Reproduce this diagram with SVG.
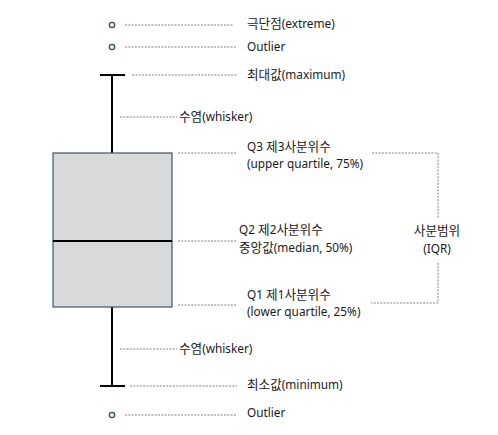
<svg xmlns="http://www.w3.org/2000/svg" width="498" height="435" viewBox="0 0 498 435">
<style>
.t{font-family:"Noto Sans","Noto Sans CJK KR",sans-serif;font-size:11.8px;fill:#1a1a1a}
.h{font-family:"Noto Sans CJK KR",sans-serif;font-size:12.6px}
.m{text-anchor:middle}
.d{stroke:#808080;stroke-width:1;stroke-dasharray:2 1.3;fill:none}
.k{stroke:#000;stroke-width:2;fill:none}
.o{fill:#fff;stroke:#3a4a60;stroke-width:1.4}
</style>
<rect width="498" height="435" fill="#fff"/>
<g id="connectors">
<line class="d" x1="125" y1="25" x2="234" y2="25"/>
<line class="d" x1="125" y1="47" x2="237" y2="47"/>
<line class="d" x1="132" y1="75" x2="237" y2="75"/>
<line class="d" x1="120" y1="117" x2="177" y2="117"/>
<line class="d" x1="178" y1="153" x2="237" y2="153"/>
<line class="d" x1="178" y1="241" x2="237" y2="241"/>
<line class="d" x1="178" y1="305" x2="237" y2="305"/>
<line class="d" x1="120" y1="349" x2="177" y2="349"/>
<line class="d" x1="130" y1="386" x2="237" y2="386"/>
<line class="d" x1="125" y1="415" x2="237" y2="415"/>
<path class="d" d="M372,153 H438 V218"/>
<path class="d" d="M438,263 V303 H371"/>
</g>
<g id="boxplot">
<line class="k" x1="112" y1="75" x2="112" y2="153"/>
<line class="k" x1="112" y1="307" x2="112" y2="386"/>
<line class="k" x1="100" y1="75" x2="125" y2="75"/>
<line class="k" x1="100" y1="386" x2="125" y2="386"/>
<rect x="53" y="153" width="119" height="154" fill="#d9d9d9" stroke="#3c5473" stroke-width="1.2"/>
<line class="k" x1="53" y1="241" x2="172" y2="241"/>
</g>
<g id="outliers">
<circle class="o" cx="112" cy="25" r="2.6"/>
<circle class="o" cx="112" cy="47" r="2.6"/>
<circle class="o" cx="112" cy="415" r="2.6"/>
</g>
<g id="labels">
<text class="t" x="247" y="28"><tspan class="h">극단점</tspan>(extreme)</text>
<text class="t" x="247" y="51">Outlier</text>
<text class="t" x="247" y="79"><tspan class="h">최대값</tspan>(maximum)</text>
<text class="t" x="179" y="121"><tspan class="h">수염</tspan>(whisker)</text>
<text class="t" x="247" y="151">Q3 <tspan class="h">제</tspan>3<tspan class="h">사분위수</tspan></text>
<text class="t" x="247" y="168">(upper quartile, 75%)</text>
<text class="t" x="239" y="234">Q2 <tspan class="h">제</tspan>2<tspan class="h">사분위수</tspan></text>
<text class="t" x="239" y="252"><tspan class="h">중앙값</tspan>(median, 50%)</text>
<text class="t m" x="437" y="235"><tspan class="h">사분범위</tspan></text>
<text class="t m" x="437" y="253">(IQR)</text>
<text class="t" x="247" y="299">Q1 <tspan class="h">제</tspan>1<tspan class="h">사분위수</tspan></text>
<text class="t" x="247" y="316">(lower quartile, 25%)</text>
<text class="t" x="179" y="353"><tspan class="h">수염</tspan>(whisker)</text>
<text class="t" x="247" y="389"><tspan class="h">최소값</tspan>(minimum)</text>
<text class="t" x="247" y="417">Outlier</text>
</g>
</svg>
